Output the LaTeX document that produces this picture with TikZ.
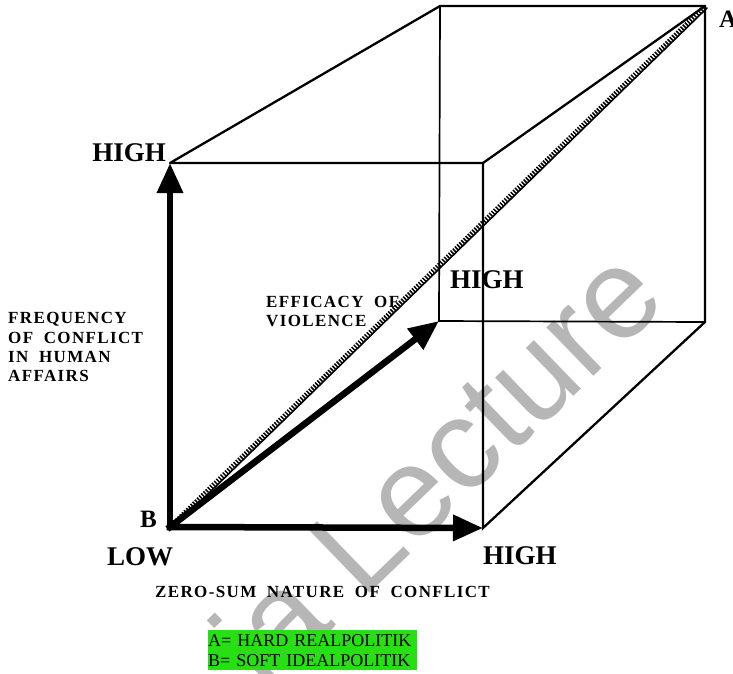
\documentclass[tikz,border=0pt]{standalone}
\usepackage{fontspec}
\setmainfont{Liberation Serif}
\newfontfamily\spacedfont[LetterSpace=8,WordSpace=1.9]{Liberation Serif}
\newfontfamily\wmfont{Liberation Sans}
\usepackage{tikz}
\usetikzlibrary{arrows.meta,calc}
\usepackage{xcolor}
\definecolor{keygreen}{RGB}{40,222,20}
\definecolor{wmgray}{RGB}{182,182,182}

\begin{document}
\begin{tikzpicture}[x=1pt,y=-1pt,line cap=round,
  edge/.style={line width=2.3pt},
  hidden/.style={line width=1.7pt},
  axis/.style={line width=6.5pt,line cap=rect,-{Triangle[length=30pt,width=25pt]}},
  hatch/.style={line width=4.5pt,line cap=butt,dash pattern=on 1.5pt off 1.5pt},
  big/.style={font=\fontsize{27}{27}\selectfont\bfseries,inner sep=0pt},
  corner/.style={font=\fontsize{25}{25}\selectfont\bfseries,inner sep=0pt},
  axlabel/.style={font=\fontsize{17}{19.3}\selectfont\spacedfont\bfseries,align=left,inner sep=0pt},
  key/.style={fill=keygreen,font=\fontsize{18}{20}\selectfont,align=left,text width=209pt,inner xsep=0pt,inner ysep=4pt}]
\useasboundingbox (0,0) rectangle (733,673);
\node[wmgray,font=\wmfont\fontsize{128}{128}\selectfont,rotate=44,anchor=base west,inner sep=0pt] (wm) at (265,694) {ia Lecture};
\coordinate (B) at (170,527);
\coordinate (ftl) at (170,163);
\coordinate (ftr) at (483,163);
\coordinate (fbr) at (483,528);
\coordinate (btl) at (440,6);
\coordinate (A) at (705,6);
\coordinate (bbr) at (705,322);
\coordinate (bbl) at (439,321);
\draw[hidden] (btl) -- (bbl) -- (bbr);
\draw[edge] (ftl) -- (btl) -- (A) -- (bbr) -- (fbr) -- (ftr) -- (ftl);
\draw[edge] (ftr) -- (A);
\draw[hatch] (B) -- (A);
\draw[line width=1.6pt] ($(B)+(2,2)$) -- ($(A)+(2,2)$);
\draw[axis] (B) -- (ftl);
\draw[axis] (B) -- (fbr);
\draw[axis] (B) -- (bbl);
\node[big,anchor=base east] (highv) at (166,161) {HIGH};
\node[big,anchor=base west] (highd) at (450,288) {HIGH};
\node[big,anchor=base west] (highh) at (483,564) {HIGH};
\node[big,anchor=base west] (low) at (107,565) {LOW};
\node[corner,anchor=base east] (labB) at (157,527) {B};
\node[corner,anchor=base west] (labA) at (719,27) {A};
\node[axlabel,anchor=north west] (freq) at (8,312.5) {FREQUENCY\\OF CONFLICT\\IN HUMAN\\AFFAIRS};
\node[axlabel,anchor=north west] (effic) at (266,296) {EFFICACY OF\\VIOLENCE};
\node[axlabel,anchor=base west] (zsum) at (155,597) {ZERO-SUM NATURE OF CONFLICT};
\node[key,anchor=north west] (legend) at (208,630) {A= HARD REALPOLITIK\\B= SOFT IDEALPOLITIK};
\end{tikzpicture}
\end{document}
